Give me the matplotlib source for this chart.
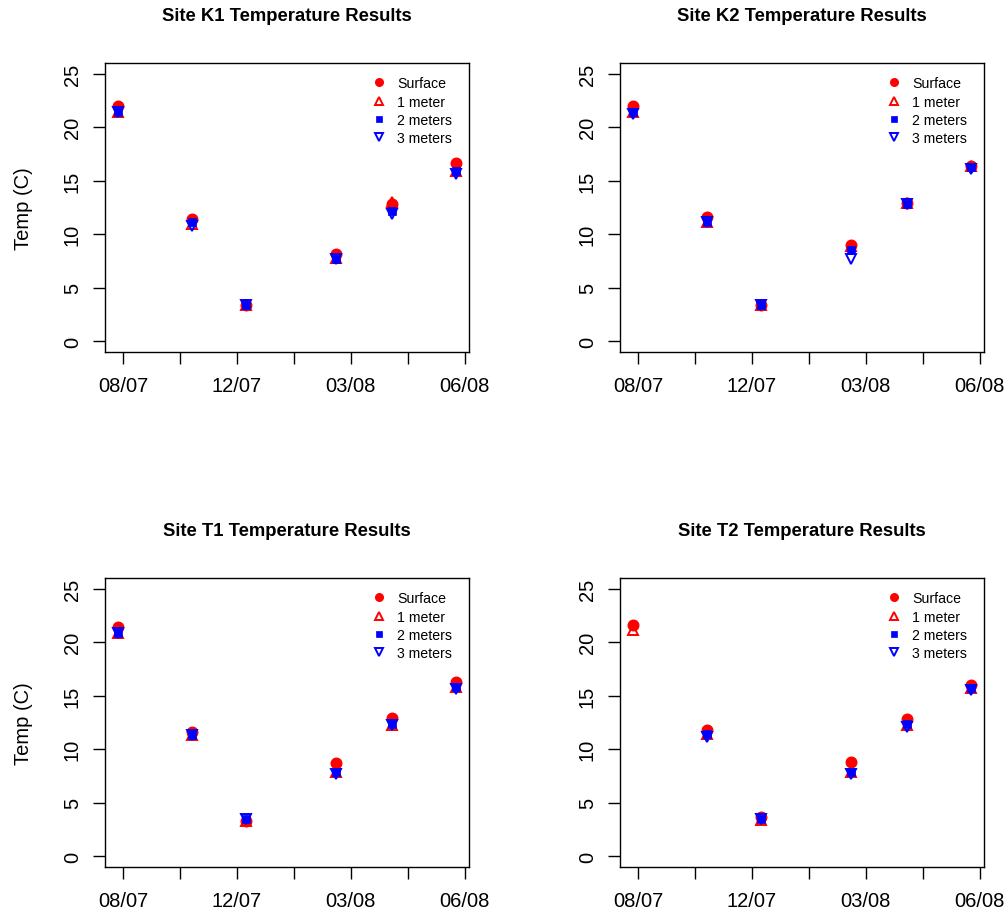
import matplotlib
matplotlib.use("Agg")
import matplotlib.pyplot as plt
import matplotlib.dates as mdates
from matplotlib.ticker import MultipleLocator, FuncFormatter, FixedLocator
import numpy as np
from datetime import datetime

plt.rcParams['font.family'] = ['Liberation Sans', 'DejaVu Sans']

# ---------------- data ----------------
sample_dates = ["2007-08-21", "2007-10-25", "2007-12-11",
                "2008-02-28", "2008-04-17", "2008-06-12"]

series_names = ["Surface", "1 meter", "2 meters", "3 meters"]

site_titles = ["Site K1 Temperature Results", "Site K2 Temperature Results",
               "Site T1 Temperature Results", "Site T2 Temperature Results"]

k1_surface = [22.0, 11.4, 3.4, 8.2, 12.8, 16.7]
k1_1m      = [21.4, 11.0, 3.4, 7.8, 13.0, 15.9]
k1_2m      = [21.4, 11.1, 3.4, 7.7, 12.2, 15.9]
k1_3m      = [21.4, 10.8, 3.4, 7.7, 11.9, 15.6]

k2_surface = [22.0, 11.6, 3.4, 9.0, 12.9, 16.4]
k2_1m      = [21.4, 11.1, 3.4, 8.9, 12.9, 16.4]
k2_2m      = [21.4, 11.1, 3.4, 8.5, 12.8, 16.3]
k2_3m      = [21.2, 11.1, 3.4, 7.7, 12.8, 16.1]

t1_surface = [21.4, 11.6, 3.3, 8.7, 12.9, 16.3]
t1_1m      = [20.9, 11.3, 3.3, 7.9, 12.3, 15.8]
t1_2m      = [20.9, 11.3, 3.5, 7.9, 12.4, 15.8]
t1_3m      = [20.9, 11.3, 3.5, 7.7, 12.3, 15.6]

t2_surface = [21.6, 11.8, 3.7, 8.8, 12.8, 16.0]
t2_1m      = [21.1, 11.4, 3.4, 7.9, 12.3, 15.7]
t2_2m      = [np.nan, 11.4, 3.5, 7.9, 12.4, 15.7]
t2_3m      = [np.nan, 11.1, 3.5, 7.7, 12.1, 15.5]

y_ticks = [0, 5, 10, 15, 20, 25]
y_range = (0, 25)

sites = [
    (k1_surface, k1_1m, k1_2m, k1_3m),
    (k2_surface, k2_1m, k2_2m, k2_3m),
    (t1_surface, t1_1m, t1_2m, t1_3m),
    (t2_surface, t2_1m, t2_2m, t2_3m),
]

# ---------------- style ----------------
styles = [
    dict(marker='o', color='#FF0000', mfc='#FF0000', ms=7.6, mew=1.0),
    dict(marker='^', color='#FF0000', mfc='none', ms=7.8, mew=1.4),
    dict(marker='s', color='#0000FF', mfc='#0000FF', ms=6.3, mew=0.5),
    dict(marker='v', color='#0000FF', mfc='none', ms=7.8, mew=1.4),
]

W, H = 1008, 920
fig = plt.figure(figsize=(W / 100, H / 100), dpi=100)

# axes boxes in pixels: left, top, right, bottom
boxes = [(105, 64, 469, 353), (620, 64, 984, 353),
         (105, 579, 469, 868), (620, 579, 984, 868)]

x = mdates.date2num([datetime.strptime(d, "%Y-%m-%d") for d in sample_dates])
xr = x.max() - x.min()
xlim = (x.min() - 0.04 * xr, x.max() + 0.04 * xr)
yr = y_range[1] - y_range[0]
ylim = (y_range[0] - 0.04 * yr, y_range[1] + 0.04 * yr)


def xfmt(v, pos):
    idx = int(round((v - 13750) / 50))
    if idx % 2 != 0:
        return ''
    return mdates.num2date(v).strftime("%m/%y")


for i, (box, title, data) in enumerate(zip(boxes, site_titles, sites)):
    l, t, r, b = box
    ax = fig.add_axes([l / W, 1 - b / H, (r - l) / W, (b - t) / H])
    for vals, st, name in zip(data, styles, series_names):
        ax.plot(x, vals, linestyle='none', label=name, **st)
    ax.set_xlim(*xlim)
    ax.set_ylim(*ylim)
    ax.xaxis.set_major_locator(MultipleLocator(50))
    ax.xaxis.set_major_formatter(FuncFormatter(xfmt))
    ax.yaxis.set_major_locator(FixedLocator(y_ticks))
    ax.tick_params(axis='both', direction='out', length=8.6, width=1.0,
                   labelsize=14.5, colors='black')
    ax.tick_params(axis='x', pad=9)
    ax.tick_params(axis='y', pad=8)
    for lab in ax.get_yticklabels():
        lab.set_rotation(90)
        lab.set_va('center')
    for sp in ax.spines.values():
        sp.set_linewidth(1.0)
    ax.set_title(title, fontsize=13.3, fontweight='bold', pad=31)
    if i % 2 == 0:
        ax.set_ylabel("Temp (C)", fontsize=14.5)
        ax.yaxis.set_label_coords(-0.197, 0.5)
    leg = ax.legend(loc='upper left', bbox_to_anchor=(0.71, 0.983),
                    frameon=False, fontsize=10.2, markerscale=0.72,
                    handlelength=1.0, handletextpad=0.8, labelspacing=0.29,
                    borderaxespad=0.2)

fig.savefig("out.png", dpi=100)
